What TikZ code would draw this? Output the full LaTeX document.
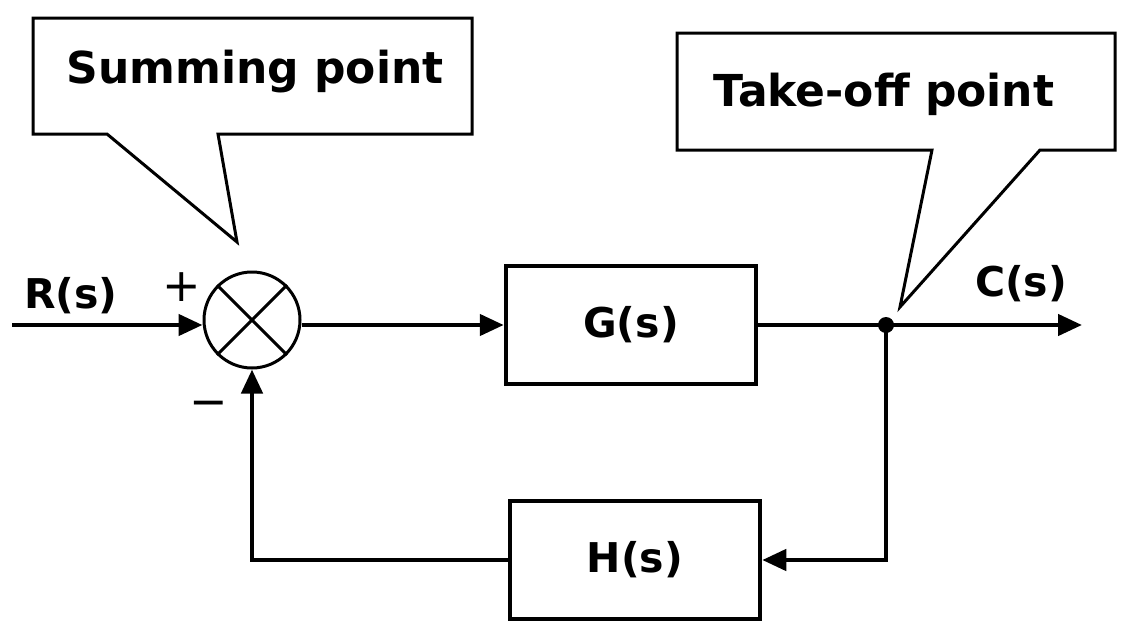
\documentclass[tikz,border=0pt]{standalone}
\usepackage{fontspec}
\setmainfont{DejaVu Sans}
\usetikzlibrary{arrows.meta}
\begin{document}
\begin{tikzpicture}[x=1pt,y=-1pt,line join=miter,
  blk/.style={draw,line width=4.5pt,minimum width=250pt,minimum height=118pt,inner sep=0pt},
  wire/.style={line width=4.5pt},
  arr/.style={wire,-{Triangle[length=24pt,width=21pt]}},
  lbl/.style={font=\fontsize{41}{44}\selectfont\bfseries,inner sep=0pt},
  sgn/.style={font=\fontsize{46}{46}\selectfont\mdseries,inner sep=0pt},
  call/.style={draw,line width=3pt,fill=white},
  calltxt/.style={font=\fontsize{44}{48}\selectfont\bfseries,inner sep=0pt}]
\useasboundingbox (0,0) rectangle (1132,640);
% callouts
\draw[call] (33,18) -- (472,18) -- (472,134) -- (218,134) -- (237,242) -- (107,134) -- (33,134) -- cycle;
\node[calltxt] (sumtxt) at (255,72) {Summing point};
\draw[call] (677,33) -- (1115,33) -- (1115,150) -- (1040,150) -- (900,307) -- (932,150) -- (677,150) -- cycle;
\node[calltxt] (taketxt) at (884,94) {Take-off point};
% blocks
\node[circle,draw,line width=3pt,minimum size=96pt,inner sep=0pt] (sum) at (252,320) {};
\draw[line width=3pt] (sum.north west) -- (sum.south east);
\draw[line width=3pt] (sum.north east) -- (sum.south west);
\node[blk] (G) at (631,325) {};
\node[blk] (H) at (635,560) {};
\node[circle,fill,inner sep=0pt,minimum size=16pt] (tap) at (886,325) {};
\coordinate (in) at (12,325);
\coordinate (out) at (1082,325);
% connectors
\draw[arr] (in) -- (in -| sum.west);
\draw[arr] (sum.east |- G.west) -- (G.west);
\draw[wire] (G.east) -- (tap.center);
\draw[arr] (tap.center) -- (out);
\draw[arr] (tap.center) |- (H.east);
\draw[arr] (H.west) -| (sum.south);
% labels
\node[lbl] at (G) {G(s)};
\node[lbl] at (H) {H(s)};
\node[lbl] (R) at (71,296) {R(s)};
\node[lbl] (C) at (1021,284) {C(s)};
\node[sgn] (plus) at (182,287) {+};
\node[sgn] (minus) at (209,409) {−};
\end{tikzpicture}
\end{document}
